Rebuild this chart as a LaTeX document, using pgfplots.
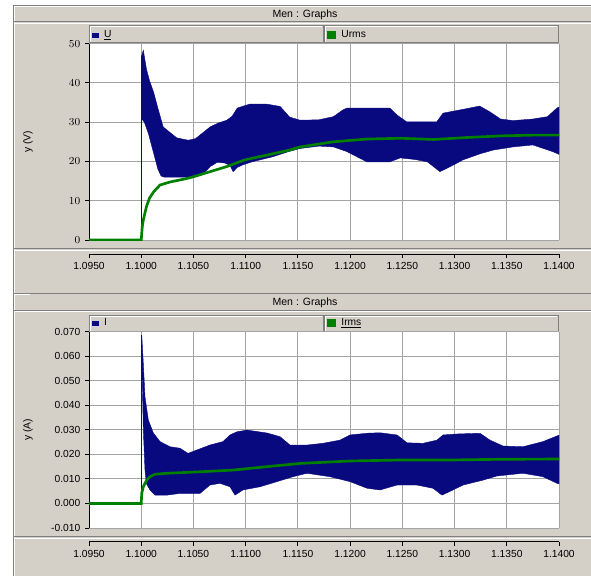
\documentclass[border=0pt]{standalone}
\usepackage{pgfplots}
\pgfplotsset{compat=1.18}
\usepackage{fontspec}
\setmainfont{Liberation Sans}
\definecolor{bg}{HTML}{D4D0C8}
\definecolor{dk}{HTML}{808080}
\definecolor{gridc}{HTML}{A4A4A4}
\definecolor{navyc}{HTML}{08087F}
\definecolor{greenc}{HTML}{008000}
\newcommand\tf{\fontsize{7.7}{9}\selectfont}
\pgfplotsset{
  panel/.style={
    scale only axis, width=352.5pt, height=147.3pt, anchor=south west,
    xmin=1.095, xmax=1.14,
    xtick={1.095,1.100,1.105,1.110,1.115,1.120,1.125,1.130,1.135,1.140},
    xticklabels={}, grid=major, major grid style={gridc, line width=0.75pt},
    axis background/.style={fill=white},
    axis y line*=left, axis x line*=bottom,
    x axis line style={gridc,-,line width=0.75pt}, y axis line style={black,-,line width=0.75pt},
    tick align=outside, major tick length=3pt,
    xtick style={draw=none}, ytick style={black, line width=0.75pt},
    tick label style={font=\tf}, scaled y ticks=false,
    every axis y label/.style={at={(rel axis cs:0,0.5)}, xshift=-45.75pt, rotate=90, anchor=center, font=\tf},
    legend columns=2, legend cell align=left,
    legend style={at={(0,1)}, anchor=south west, draw=none, fill=none, inner sep=0pt, outer sep=0pt,
      xshift=2pt, yshift=3pt, font=\tf,
      nodes={inner sep=0pt, text width=160pt},
      /tikz/every odd column/.append style={column sep=4pt},
      /tikz/every even column/.append style={column sep=7pt}},
    legend image code/.code={\fill[##1] (0pt,-1.7pt) rectangle (5pt,1.7pt);},
  },
  xbar/.style={
    scale only axis, width=352.5pt, height=1pt, anchor=south west,
    xmin=1.095, xmax=1.14, ymin=0, ymax=1,
    hide y axis, axis x line*=bottom,
    x axis line style={black,-,line width=0.75pt},
    xtick={1.095,1.100,1.105,1.110,1.115,1.120,1.125,1.130,1.135,1.140},
    xticklabels={1.0950,1.1000,1.1050,1.1100,1.1150,1.1200,1.1250,1.1300,1.1350,1.1400},
    tick align=outside, major tick length=3pt,
    xtick style={black, line width=0.75pt},
    tick label style={font=\tf},
  }
}
\begin{document}
\begin{tikzpicture}[x=0.75pt,y=0.75pt]
\useasboundingbox (0,0) rectangle (591,576);
% window background (py -> Y = 576 - py)
\fill[white] (0,0) rectangle (591,576);
\fill[bg] (13,0) rectangle (591,571);
\draw[dk,line width=0.75pt] (13.5,0) -- (13.5,570.5) -- (591,570.5);
\draw[white,line width=0.75pt] (14.5,0) -- (14.5,569.5) -- (591,569.5);
% separators
\draw[dk,line width=0.75pt] (13,554) -- (591,554);
\draw[white,line width=0.75pt] (15,552.5) -- (591,552.5);
\draw[dk,line width=0.75pt] (13,328) -- (591,328);
\draw[white,line width=0.75pt] (15,325.5) -- (591,325.5);
\draw[dk,line width=0.75pt] (13,283) -- (591,283);
\draw[white,line width=0.75pt] (15,281.5) -- (30,281.5);
\draw[dk,line width=0.75pt] (13,266) -- (591,266);
\draw[white,line width=0.75pt] (15,264.5) -- (591,264.5);
\draw[dk,line width=0.75pt] (13,40) -- (591,40);
\draw[white,line width=0.75pt] (15,37.5) -- (591,37.5);
% title bars
\node[font=\fontsize{7.9}{9}\selectfont] at (305,561) {Men : Graphs};
\node[font=\fontsize{7.9}{9}\selectfont] at (305,273) {Men : Graphs};
% legend boxes
\draw[dk,line width=0.75pt,fill=bg] (89,533) rectangle (323,550);
\draw[dk,line width=0.75pt,fill=bg] (324.5,533) rectangle (558,550);
\draw[white,line width=0.75pt] (90,534) -- (90,549) -- (322,549);
\draw[white,line width=0.75pt] (325.5,534) -- (325.5,549) -- (557,549);
\draw[dk,line width=0.75pt,fill=bg] (89,244.5) rectangle (323,261);
\draw[dk,line width=0.75pt,fill=bg] (324.5,244.5) rectangle (558,261);
\draw[white,line width=0.75pt] (90,245.5) -- (90,260) -- (322,260);
\draw[white,line width=0.75pt] (325.5,245.5) -- (325.5,260) -- (557,260);

% ---------------- top panel: U, Urms ----------------
\begin{axis}[panel, at={(66.75pt,252pt)}, ymin=0, ymax=50, ytick={0,10,20,30,40,50}, ylabel={y (V)}]
\addplot[navyc, fill=navyc, line width=0.3pt] coordinates {
(1.1000,46.6)(1.1002,48.3)(1.1005,43.5)(1.1008,40.5)(1.1012,37.5)(1.1016,33.5)(1.1021,28.8)
(1.1027,27.5)(1.1034,26)(1.1045,25.4)(1.1052,25.8)(1.1060,27.5)(1.1066,28.8)(1.1074,29.8)
(1.1082,30.5)(1.1087,31.5)(1.1092,33.6)(1.1104,34.6)(1.1120,34.6)(1.1133,34)(1.1142,31.3)
(1.1152,30.5)(1.1170,30.6)(1.1184,31.4)(1.1193,33.1)(1.1197,33.6)(1.1238,33.6)(1.1245,31.8)
(1.1254,30.1)(1.1283,30.1)(1.1289,32.3)(1.1305,33.1)(1.1324,34.1)(1.1334,32.6)(1.1344,30.8)
(1.1356,30.4)(1.1375,30.8)(1.1389,31.4)(1.1398,33.6)(1.1400,33.8)
(1.1400,21.8)(1.1394,22.5)(1.1375,24.2)(1.1356,23.7)(1.1337,22.9)(1.1325,22)(1.1308,20.4)
(1.1299,19.1)(1.1286,17.4)(1.1274,19.9)(1.1262,20.5)(1.1248,20.9)(1.1238,19.9)(1.1216,19.9)
(1.1197,22.5)(1.1184,23.7)(1.1170,23.9)(1.1152,23.3)(1.1141,22.5)(1.1126,21.2)(1.1106,19.9)
(1.1097,19.1)(1.1092,18.5)(1.1088,17.4)(1.1085,19.0)(1.1080,19.6)(1.1073,19.8)(1.1066,18.7)
(1.1062,17.5)(1.1055,16.7)(1.1045,16)(1.1035,16)(1.1022,16)(1.1019,16.3)(1.1016,18)
(1.1013,21)(1.1010,24)(1.1007,27)(1.1003,30)(1.1000,31)} -- cycle;
\addlegendentry{\underline{U}}
\addplot[navyc, line width=0.6pt, forget plot] coordinates {(1.1,0)(1.1,46.6)};
\addplot[greenc, line width=2pt] coordinates {
(1.0950,0)(1.1000,0)(1.1001,3.4)(1.1002,5.1)(1.1005,8.5)(1.1008,10.7)(1.1012,12.3)
(1.1018,14)(1.1028,14.8)(1.1041,15.5)(1.1050,16.1)(1.1066,17.4)(1.1082,18.7)(1.1099,20.4)
(1.1120,21.6)(1.1142,22.9)(1.1152,23.7)(1.1184,25)(1.1216,25.7)(1.1248,25.9)(1.1280,25.6)
(1.1312,26.1)(1.1344,26.5)(1.1375,26.7)(1.1400,26.7)};
\addlegendentry{Urms}
\end{axis}
\begin{axis}[xbar, at={(66.75pt,241.5pt)}]
\addplot[draw=none, forget plot] coordinates {(1.095,0)(1.14,1)};
\end{axis}

% ---------------- bottom panel: I, Irms ----------------
\begin{axis}[panel, at={(66.75pt,36pt)}, ymin=-0.01, ymax=0.07,
  ytick={-0.01,0,0.01,0.02,0.03,0.04,0.05,0.06,0.07},
  yticklabels={-0.010,0.000,0.010,0.020,0.030,0.040,0.050,0.060,0.070},
  ylabel={y (A)}]
\addplot[navyc, fill=navyc, line width=0.3pt] coordinates {
(1.10005,0.0686)(1.1002,0.057)(1.10036,0.0435)(1.10068,0.034)(1.10116,0.0287)(1.1018,0.0252)
(1.10276,0.0231)(1.10371,0.0225)(1.10448,0.0204)(1.10534,0.0218)(1.10658,0.0238)(1.10783,0.0252)
(1.1085,0.0279)(1.10917,0.0292)(1.11013,0.0299)(1.11204,0.0287)(1.11329,0.0272)(1.11424,0.0238)
(1.11587,0.0238)(1.1174,0.0245)(1.11903,0.0258)(1.11999,0.0279)(1.12162,0.0286)(1.12286,0.0288)
(1.12449,0.0279)(1.12545,0.0247)(1.12698,0.0245)(1.12832,0.0258)(1.12889,0.0279)(1.13023,0.0283)
(1.13243,0.0286)(1.13339,0.0258)(1.13464,0.0234)(1.13655,0.0231)(1.13847,0.0252)(1.13981,0.0275)
(1.14,0.0278)
(1.14,0.008)(1.13981,0.0082)(1.13847,0.0109)(1.13655,0.0123)(1.13406,0.0112)(1.13272,0.0095)
(1.13081,0.0075)(1.12985,0.0055)(1.1288,0.0034)(1.12793,0.0062)(1.1264,0.0075)(1.12449,0.0075)
(1.12286,0.0055)(1.12162,0.0062)(1.11999,0.0089)(1.11807,0.0109)(1.11587,0.0123)(1.11453,0.0109)
(1.113,0.0089)(1.11137,0.0068)(1.10974,0.0055)(1.10898,0.0034)(1.1085,0.0068)(1.10754,0.0082)
(1.10658,0.0075)(1.10563,0.0041)(1.10371,0.0041)(1.10247,0.0034)(1.10132,0.0034)(1.10084,0.0055)
(1.1005,0.008)(1.10036,0.0136)(1.1002,0.030)(1.10005,0.060)} -- cycle;
\addlegendentry{I}
\addplot[navyc, line width=0.6pt, forget plot] coordinates {(1.1,0)(1.1,0.0686)};
\addplot[greenc, line width=2pt] coordinates {
(1.095,0)(1.1,0)(1.10005,0.0042)(1.1002,0.0068)(1.10052,0.0095)(1.10084,0.0109)(1.10132,0.0119)
(1.10247,0.0123)(1.10563,0.0129)(1.10879,0.0136)(1.11204,0.015)(1.1152,0.0163)(1.11999,0.0173)
(1.12478,0.0177)(1.12957,0.0177)(1.13435,0.018)(1.14,0.0181)};
\addlegendentry{\underline{Irms}}
\end{axis}
\begin{axis}[xbar, at={(66.75pt,25.875pt)}]
\addplot[draw=none, forget plot] coordinates {(1.095,0)(1.14,1)};
\end{axis}
\end{tikzpicture}
\end{document}
